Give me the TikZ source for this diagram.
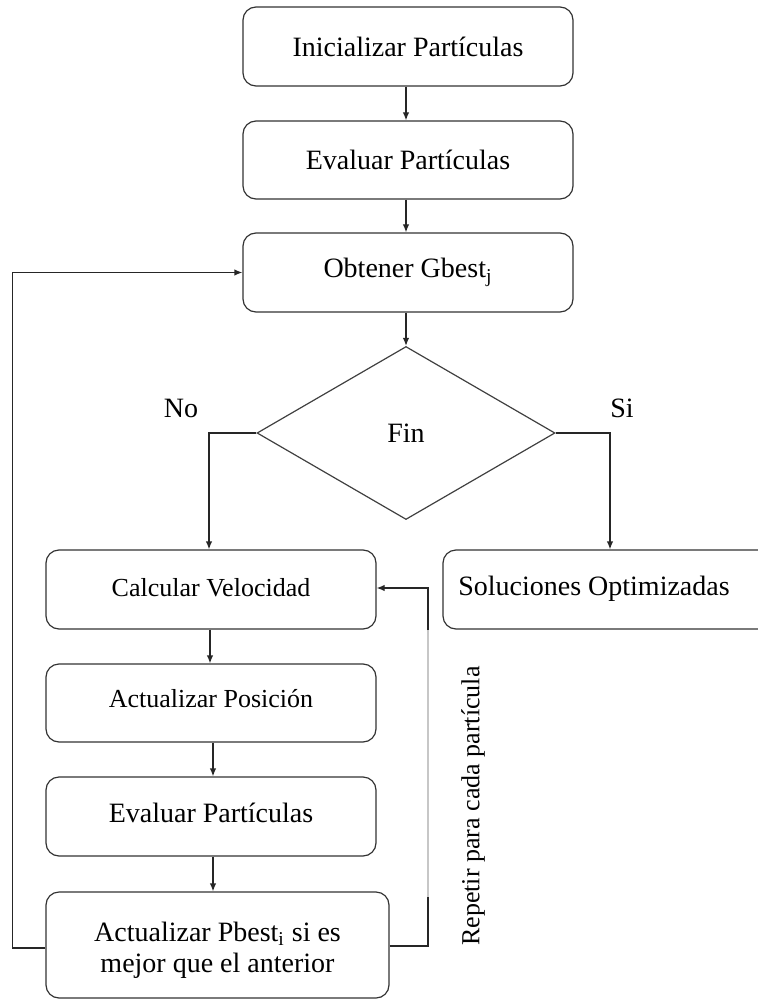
\documentclass[tikz,border=0pt]{standalone}
\usepackage{fontspec}
\setmainfont{Liberation Serif}
\usetikzlibrary{shapes.geometric,arrows.meta}
\begin{document}
\begin{tikzpicture}[x=0.5pt,y=-0.5pt,
  box/.style={draw=black!80, line width=0.6pt, rounded corners=6.5pt, align=center,
              inner sep=0pt, font=\fontsize{14}{15.5}\selectfont},
  smallbox/.style={box, font=\fontsize{13}{15}\selectfont},
  decision/.style={draw=black!75, line width=0.6pt, diamond, inner sep=0pt,
              font=\fontsize{14}{16}\selectfont},
  link/.style={draw=black!85, line width=0.6pt},
  arr/.style={link, -{Latex[length=4pt,width=3.2pt]}},
  lbl/.style={font=\fontsize{14}{16}\selectfont, inner sep=0pt}]
\useasboundingbox (0,0) rectangle (758,1000);
\begin{scope}
\clip (0,0) rectangle (758,1000);

% main column
\node[box, minimum width=165pt, minimum height=39.5pt] (init) at (408,46.5) {Inicializar Partículas};
\node[box, minimum width=165pt, minimum height=39pt] (eval1) at (408,160) {Evaluar Partículas};
\node[box, minimum width=165pt, minimum height=39.5pt] (gbest) at (408,272.5) {Obtener Gbest\textsubscript{j}};
\node[decision, minimum width=149pt, minimum height=86.5pt] (fin) at (406,433) {Fin};

% loop over particles
\node[smallbox, minimum width=165pt, minimum height=39.5pt] (vel) at (211,589.5) {};
\node[font=\fontsize{13}{15}\selectfont, inner sep=0pt] (veltext) at (211,588) {Calcular Velocidad};
\node[smallbox, minimum width=165pt, minimum height=39pt] (pos) at (211,703) {};
\node[font=\fontsize{13}{15}\selectfont, inner sep=0pt] (postext) at (211,699) {Actualizar Posición};
\node[box, minimum width=165pt, minimum height=39.5pt] (eval2) at (211,816.5) {};
\node[lbl] (eval2text) at (211,813) {Evaluar Partículas};
\node[box, minimum width=171.5pt, minimum height=53pt] (pbest) at (217.5,945) {};
\node[lbl, align=center, font=\fontsize{14}{15.5}\selectfont] (pbesttext) at (217.5,950)
  {Actualizar Pbest\textsubscript{i} si es\\mejor que el anterior};

% exit box
\node[box, minimum width=173.5pt, minimum height=39.5pt] (sol) at (616.5,589.5) {};
\node[lbl] (soltext) at (594,589) {Soluciones Optimizadas};

% branch labels
\node[lbl] (no) at (181,408) {No};
\node[lbl] (si) at (622,408) {Si};
\node[font=\fontsize{13}{15}\selectfont, inner sep=0pt, rotate=90] (rep) at (473,806) {Repetir para cada partícula};

% connectors
\draw[arr] (init.south -| 406,0) -- (eval1.north -| 406,0);
\draw[arr] (eval1.south -| 406,0) -- (gbest.north -| 406,0);
\draw[arr] (gbest.south -| 406,0) -- (fin.north);
\draw[arr] (fin.west) -| ([xshift=-1pt]vel.north);
\draw[arr] (fin.east) -| ([xshift=-3.25pt]sol.north);
\draw[arr] (vel.south -| 210,0) -- (pos.north -| 210,0);
\draw[arr] (pos.south -| 213,0) -- (eval2.north -| 213,0);
\draw[arr] (eval2.south -| 213,0) -- (pbest.north -| 213,0);

% back to the global best
\draw[arr] ([yshift=-1.5pt]pbest.west) -- ++(-33,0) |- (gbest.west);

% repeat for each particle
\coordinate (rb) at (428,946);
\coordinate (rmid) at (428,897);
\coordinate (rup) at (428,630);
\draw[link] (pbest.east |- rb) -- (rb) -- (rmid);
\draw[link, draw=black!22] (rmid) -- (rup);
\draw[arr] (rup) |- ([yshift=0.75pt]vel.east);
\end{scope}
\end{tikzpicture}
\end{document}
